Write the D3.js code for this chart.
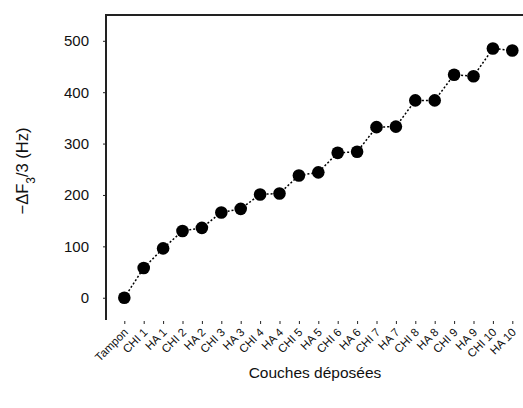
<!DOCTYPE html>
<html><head><meta charset="utf-8">
<script src="https://cdn.jsdelivr.net/npm/d3@7"></script>
<style>body{margin:0;background:#fff;} text{font-family:"Liberation Sans",Arial,sans-serif;fill:#111;}</style>
</head><body>
<svg id="c" width="523" height="408"></svg>
<script>
const categories = ["Tampon","CHI 1","HA 1","CHI 2","HA 2","CHI 3","HA 3","CHI 4","HA 4","CHI 5","HA 5","CHI 6","HA 6","CHI 7","HA 7","CHI 8","HA 8","CHI 9","HA 9","CHI 10","HA 10"];
const values = [0,58,96,130,136,166,173,201,203,238,244,282,284,332,333,384,384,434,431,485,481];
const yTicks = [0,100,200,300,400,500];

const svg = d3.select("#c");
const x = d3.scalePoint().domain(categories).range([124.3, 512.3]);
const y = d3.scaleLinear().domain([-43.3, 550.2]).range([320, 15]);

// frame: left and top
svg.append("line").attr("x1",106).attr("x2",106).attr("y1",15).attr("y2",320).attr("stroke","#222").attr("stroke-width",2);
svg.append("line").attr("x1",105).attr("x2",523).attr("y1",15).attr("y2",15).attr("stroke","#222").attr("stroke-width",2);

// y axis
const yAxis = d3.axisLeft(y).tickValues(yTicks).tickSize(3).tickPadding(14);
const gy = svg.append("g").attr("transform","translate(106,0)").call(yAxis);
gy.select(".domain").remove();
gy.selectAll("line").attr("stroke","#222");
gy.selectAll("text").style("font-size","15px").attr("fill","#111");

// x axis ticks and labels
const xAxis = d3.axisBottom(x).tickSize(3).tickPadding(0);
const gx = svg.append("g").attr("transform","translate(0,321)").call(xAxis);
gx.select(".domain").remove();
gx.selectAll("line").attr("stroke","#222");
gx.selectAll("text").style("font-size","11.5px").attr("text-anchor","end")
  .attr("dy",null).attr("y",0)
  .attr("transform","translate(4,12) rotate(-45)");

// line
const line = d3.line().x((d,i)=>x(categories[i])).y(d=>y(d));
svg.append("path").datum(values).attr("d",line).attr("fill","none")
  .attr("stroke","#000").attr("stroke-width",1.5).attr("stroke-dasharray","2,2");

// points
svg.selectAll("circle.p").data(values).enter().append("circle")
  .attr("cx",(d,i)=>x(categories[i])).attr("cy",d=>y(d)).attr("r",6.3).attr("fill","#000");

// titles
svg.append("text").attr("x",315).attr("y",378).attr("text-anchor","middle").style("font-size","15.5px").text("Couches déposées");
const yt = svg.append("text").attr("transform","translate(28,171) rotate(-90)").attr("text-anchor","middle").style("font-size","16.5px");
yt.append("tspan").text("−ΔF");
yt.append("tspan").attr("baseline-shift","sub").style("font-size","12px").text("3");
yt.append("tspan").text("/3 (Hz)");
</script>
</body></html>
